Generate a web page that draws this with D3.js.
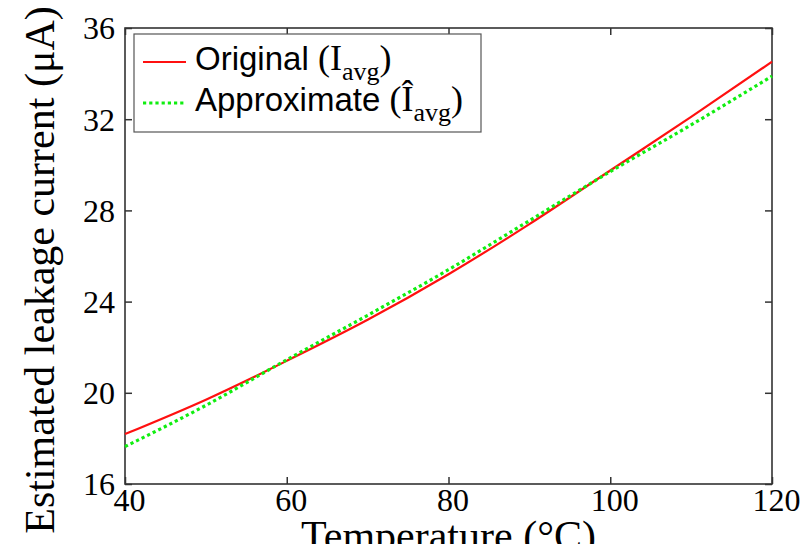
<!DOCTYPE html>
<html>
  <head>
    <meta charset="utf-8">
    <title>Leakage current vs temperature</title>
    <style>
    body { margin: 0; background: #fff; }
    svg { display: block; }
    .axis path { display: none; }
    .axis line { stroke: #333; stroke-width: 1.5; }
    .axis text { font-family: "Liberation Serif", serif; font-size: 32px; fill: #000; }
    .frame { fill: none; stroke: #333; stroke-width: 1.6; }
    .label { font-family: "Liberation Serif", serif; font-size: 42px; fill: #000; }
    .legend text { font-family: "Liberation Sans", sans-serif; font-size: 33px; fill: #000; }
    .legend .math { font-family: "Liberation Serif", serif; font-size: 36px; }
    .legend .sub { font-family: "Liberation Serif", serif; font-size: 26px; }
    </style>
  </head>
  <body>
    <svg width="808" height="544"></svg>
    <script src="https://d3js.org/d3.v7.min.js"></script>
    <script>

      // values
      var temps = [40, 50, 60, 70, 80, 90, 100, 110, 120];
      var original = [18.19, 19.7, 21.4, 23.2, 25.2, 27.4, 29.75, 32.1, 34.52];
      var approx = [17.64, 19.45, 21.45, 23.4, 25.4, 27.55, 29.7, 31.75, 33.89];
      var xTicks = [40, 60, 80, 100, 120];
      var yTicks = [16, 20, 24, 28, 32, 36];

      var svg = d3.select("svg"),
          margin = {top: 28, right: 36, bottom: 60, left: 125},
          width = +svg.attr("width") - margin.left - margin.right,
          height = +svg.attr("height") - margin.top - margin.bottom;

      var x = d3.scaleLinear().domain([40, 120]).range([0, width]),
          y = d3.scaleLinear().domain([16, 36]).range([height, 0]);

      var g = svg.append("g")
          .attr("transform", "translate(" + margin.left + "," + margin.top + ")");

      // inward ticks on all four sides
      g.append("g")
          .attr("class", "axis axis--x")
          .attr("transform", "translate(0," + height + ")")
          .call(d3.axisBottom(x).tickValues(xTicks).tickSizeInner(-7).tickSizeOuter(0))
        .selectAll("text")
          .attr("x", 4)
          .attr("y", 27)
          .attr("dy", null);

      g.append("g")
          .attr("class", "axis")
          .call(d3.axisTop(x).tickValues(xTicks).tickSizeInner(-7).tickSizeOuter(0).tickFormat(""));

      g.append("g")
          .attr("class", "axis axis--y")
          .call(d3.axisLeft(y).tickValues(yTicks).tickSizeInner(-7).tickSizeOuter(0))
        .selectAll("text")
          .attr("x", -10)
          .attr("dy", "0.34em");

      g.append("g")
          .attr("class", "axis")
          .attr("transform", "translate(" + width + ",0)")
          .call(d3.axisRight(y).tickValues(yTicks).tickSizeInner(-7).tickSizeOuter(0).tickFormat(""));

      g.append("rect")
          .attr("class", "frame")
          .attr("width", width)
          .attr("height", height);

      var line = d3.line()
          .x(function(d) { return x(d[0]); })
          .y(function(d) { return y(d[1]); })
          .curve(d3.curveMonotoneX);

      g.append("path")
          .datum(temps.map(function(t, i) { return [t, original[i]]; }))
          .attr("fill", "none")
          .attr("stroke", "#ff1010")
          .attr("stroke-width", 2.2)
          .attr("d", line);

      g.append("path")
          .datum(temps.map(function(t, i) { return [t, approx[i]]; }))
          .attr("fill", "none")
          .attr("stroke", "#10ee10")
          .attr("stroke-width", 3.2)
          .attr("stroke-dasharray", "3.2,3")
          .attr("d", line);

      // axis titles
      svg.append("text")
          .attr("class", "label")
          .attr("text-anchor", "middle")
          .attr("x", margin.left + width / 2)
          .attr("y", 550)
          .text("Temperature (°C)");

      svg.append("text")
          .attr("class", "label")
          .attr("text-anchor", "middle")
          .attr("transform", "translate(54,270) rotate(-90)")
          .text("Estimated leakage current (μA)");

      // legend
      var legend = svg.append("g").attr("class", "legend");

      legend.append("rect")
          .attr("x", 134).attr("y", 34)
          .attr("width", 347).attr("height", 98)
          .attr("fill", "#fff")
          .attr("stroke", "#555")
          .attr("stroke-width", 1.2);

      legend.append("line")
          .attr("x1", 143).attr("x2", 186)
          .attr("y1", 62).attr("y2", 62)
          .attr("stroke", "#ff1010")
          .attr("stroke-width", 2.2);

      legend.append("line")
          .attr("x1", 143).attr("x2", 186)
          .attr("y1", 103).attr("y2", 103)
          .attr("stroke", "#10ee10")
          .attr("stroke-width", 3.2)
          .attr("stroke-dasharray", "3.2,3");

      var t1 = legend.append("text").attr("x", 195).attr("y", 70);
      t1.append("tspan").text("Original ");
      t1.append("tspan").attr("class", "math").text("(I");
      t1.append("tspan").attr("class", "sub").attr("dy", 10).text("avg");
      t1.append("tspan").attr("class", "math").attr("dy", -10).text(")");

      var t2 = legend.append("text").attr("x", 195).attr("y", 111);
      t2.append("tspan").text("Approximate ");
      t2.append("tspan").attr("class", "math").text("(Î");
      t2.append("tspan").attr("class", "sub").attr("dy", 10).text("avg");
      t2.append("tspan").attr("class", "math").attr("dy", -10).text(")");

    </script>
  </body>
</html>
